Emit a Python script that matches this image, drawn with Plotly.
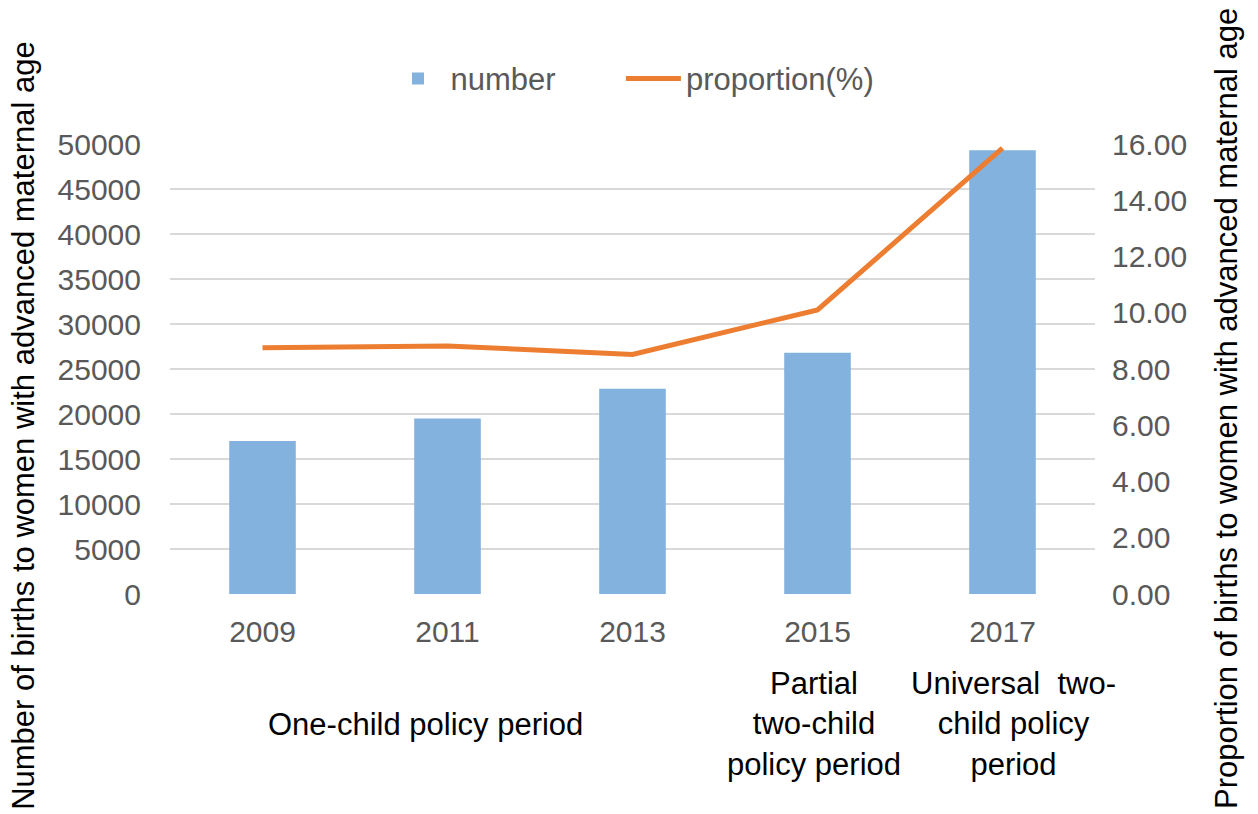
import plotly.graph_objects as go

years = ["2009", "2011", "2013", "2015", "2017"]
births_number = [17000, 19500, 22800, 26800, 49300]
proportion_pct = [8.76, 8.82, 8.52, 10.10, 15.85]

period_labels = ["One-child policy period",
                 "Partial<br>two-child<br>policy period",
                 "Universal  two-<br>child policy<br>period"]
period_anchor = ["2011", "2015", "2017"]
period_shift = [-22, -4, 11]

left_title = "Number of births to women with advanced maternal age"
right_title = "Proportion of births to women with advanced maternal age"

FONT = "Liberation Sans, Arial, sans-serif"
GRAY = "#595959"

fig = go.Figure()
fig.add_trace(go.Bar(x=years, y=births_number, name="number" + "\u00a0" * 7,
                     marker=dict(color="#84B2DE", line=dict(width=0)),
                     width=0.36, yaxis="y"))
fig.add_trace(go.Scatter(x=years, y=proportion_pct, name="proportion(%)",
                         mode="lines", line=dict(color="#ED7D31", width=5),
                         yaxis="y2"))

for txt, anc, sh in zip(period_labels, period_anchor, period_shift):
    fig.add_annotation(x=years.index(anc), y=-0.289, xref="x", yref="paper", text=txt,
                       showarrow=False, xshift=sh, yanchor="middle",
                       font=dict(family=FONT, size=31, color="black"),
                       align="center")

fig.add_annotation(x=-0.158, y=0.3756, xref="paper", yref="paper", text=left_title,
                   textangle=-90, showarrow=False, xanchor="center", yanchor="middle",
                   font=dict(family=FONT, size=31, color="black"))
fig.add_annotation(x=1.1416, y=0.4133, xref="paper", yref="paper", text=right_title,
                   textangle=-90, showarrow=False, xanchor="center", yanchor="middle",
                   font=dict(family=FONT, size=31, color="black"))

fig.update_layout(
    width=1258, height=814,
    margin=dict(l=170, r=163, t=144, b=220),
    paper_bgcolor="white", plot_bgcolor="white",
    font=dict(family=FONT, color=GRAY),
    showlegend=True,
    legend=dict(orientation="h", x=0.5, xanchor="center", y=1.145, yanchor="middle",
                font=dict(size=31, color=GRAY), itemwidth=55, bgcolor="rgba(0,0,0,0)"),
    xaxis=dict(type="category", range=[-0.5, 4.5], showgrid=False, showline=False,
               ticks="", tickfont=dict(size=30, color=GRAY), ticklabelstandoff=17),
    yaxis=dict(range=[0, 50000], dtick=5000, tickformat="d", showgrid=True,
               gridcolor="#D9D9D9", gridwidth=2, zeroline=False, showline=False,
               ticks="", tickfont=dict(size=30, color=GRAY), ticklabelstandoff=28),
    yaxis2=dict(range=[0, 16], dtick=2, tickformat=".2f", overlaying="y", side="right",
                showgrid=False, zeroline=False, showline=False, ticks="",
                tickfont=dict(size=30, color=GRAY), ticklabelstandoff=16),
)

fig.write_html("out.html")
